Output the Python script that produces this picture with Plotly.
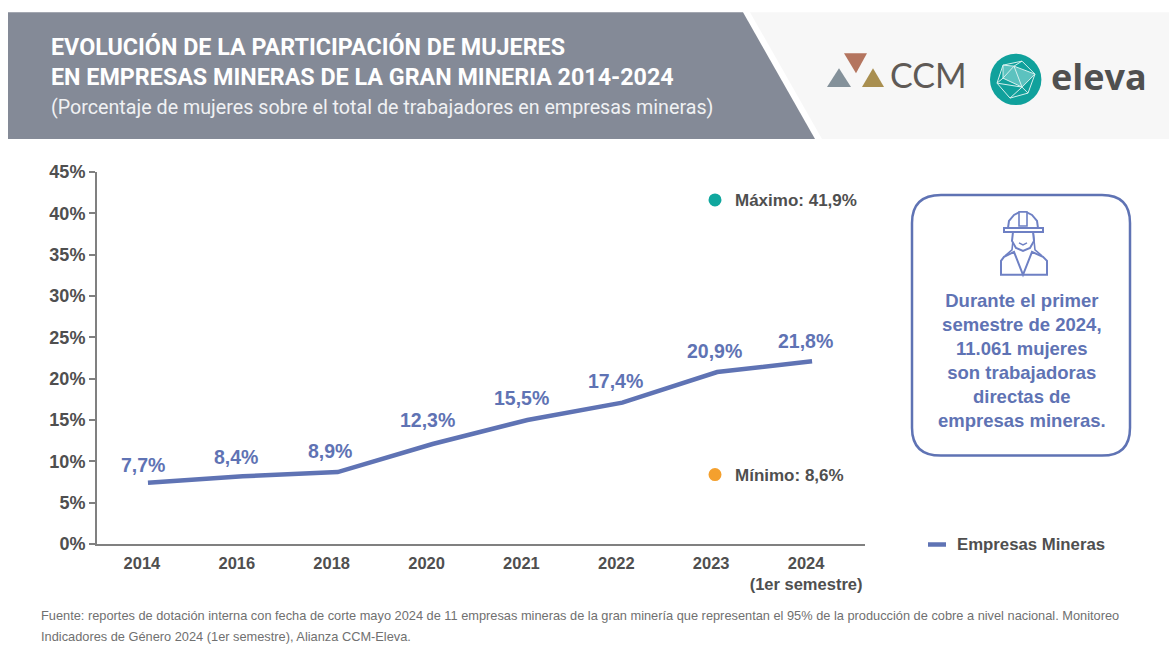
import plotly.graph_objects as go

W, H = 1169, 662
L, R, T, B = 97, 865, 172, 544.5

categories = ["2014", "2016", "2018", "2020", "2021", "2022", "2023", "2024"]
tick_labels = ["2014", "2016", "2018", "2020", "2021", "2022", "2023", "2024<br>(1er semestre)"]
series_name = "Empresas Mineras"
line_values = [7.4, 8.2, 8.7, 12.1, 15.0, 17.1, 20.8, 22.1]
value_labels = ["7,7%", "8,4%", "8,9%", "12,3%", "15,5%", "17,4%", "20,9%", "21,8%"]
y_ticks = [0, 5, 10, 15, 20, 25, 30, 35, 40, 45]

BLUE = "#5f73b4"
GRAY = "#4f4f4f"
SANS = "Liberation Sans"

def px(x):
    return (x - L) / (R - L)

def py(y):
    return (B - y) / (B - T)

def path(points, close=True):
    s = "M " + " L ".join(f"{px(a):.5f},{py(b):.5f}" for a, b in points)
    return s + (" Z" if close else "")

shapes = []

def poly(points, fill, line=None, width=0, close=True):
    shapes.append(dict(type="path", xref="paper", yref="paper", path=path(points, close),
                       fillcolor=fill if close else "rgba(0,0,0,0)",
                       line=dict(color=line or "rgba(0,0,0,0)", width=width), layer="below"))

def circle(cx, cy, rx, ry, fill, line=None, width=0):
    shapes.append(dict(type="circle", xref="paper", yref="paper",
                       x0=px(cx - rx), x1=px(cx + rx), y0=py(cy + ry), y1=py(cy - ry),
                       fillcolor=fill, line=dict(color=line or "rgba(0,0,0,0)", width=width), layer="below"))

# header
poly([(750, 12), (1169, 12), (1169, 139), (822, 139)], "#f7f7f7")
poly([(8, 12), (743, 12), (815, 139), (8, 139)], "#848a97")

# CCM logo
poly([(844, 53), (867, 53), (856, 73)], "#b4755f")
poly([(827, 87), (851, 87), (839, 68)], "#84919a")
poly([(862, 87), (884, 87), (873, 68)], "#a98f50")

# eleva logo
circle(1015.7, 79.3, 25.7, 25.7, "#10a19c")
poly([(1003, 65), (1014, 66), (1035, 74), (1022, 87), (1003, 78)], "#5cc2bf")
for seg in ([(1003, 65), (1022, 61), (1035, 74), (1028, 93), (1010, 98), (997, 83), (1003, 65)],
            [(1003, 65), (1014, 66), (1022, 61)],
            [(1014, 66), (1035, 74), (1022, 87), (1014, 66), (1003, 78), (1022, 87), (997, 83)],
            [(1022, 87), (1010, 98)], [(1022, 87), (1028, 93)], [(1003, 65), (1003, 78), (997, 83)]):
    poly(seg, "rgba(0,0,0,0)", "#d5f0ee", 1, close=False)

# callout box
shapes.append(dict(type="path", xref="paper", yref="paper",
                   path=(f"M {px(941)},{py(195)} L {px(1102)},{py(195)} "
                         f"Q {px(1130)},{py(195)} {px(1130)},{py(223)} L {px(1130)},{py(428)} "
                         f"Q {px(1130)},{py(456)} {px(1102)},{py(456)} L {px(941)},{py(456)} "
                         f"Q {px(912)},{py(456)} {px(912)},{py(428)} L {px(912)},{py(223)} "
                         f"Q {px(912)},{py(195)} {px(941)},{py(195)} Z"),
                   line=dict(color=BLUE, width=2.5), fillcolor="rgba(0,0,0,0)", layer="below"))

# worker icon
ic = "#6e80c4"
poly([(1001, 275), (1001, 261), (1004, 257), (1014, 252), (1023, 275), (1032, 252), (1043, 257),
      (1047, 261), (1047, 275)], "white", ic, 2)
poly([(1014, 231), (1012, 250), (1005, 256)], "white", ic, 1.6, close=False)
poly([(1033, 231), (1035, 250), (1042, 256)], "white", ic, 1.6, close=False)
poly([(1013, 232), (1033, 232), (1034, 241), (1030, 248), (1023, 251), (1016, 248), (1012, 241)], "white", ic, 2)
poly([(1019, 243), (1023, 245), (1027, 243)], "white", ic, 1.4, close=False)
poly([(1008, 228), (1009, 221), (1014, 215), (1020, 212), (1026, 212), (1032, 215), (1037, 221), (1038, 228)],
     "white", ic, 2)
poly([(1019, 212), (1019, 226), (1027, 226), (1027, 212)], "white", ic, 1.6)
poly([(1004, 232), (1004, 228), (1043, 228), (1043, 232)], "white", ic, 2)

annotations = []

def text(x, y, s, size, color=GRAY, font=SANS, anchor="left", yanchor="middle", bold=False, align=None):
    annotations.append(dict(xref="paper", yref="paper", x=px(x), y=py(y), text=f"<b>{s}</b>" if bold else s,
                            showarrow=False, xanchor=anchor, yanchor=yanchor, align=align or anchor,
                            font=dict(family=font, size=size, color=color), borderpad=0))

# header text
text(50, 47, "EVOLUCIÓN DE LA PARTICIPACIÓN DE MUJERES", 23.3, "white", "Roboto", bold=True)
text(50, 77, "EN EMPRESAS MINERAS DE LA GRAN MINERIA 2014-2024", 23.3, "white", "Roboto", bold=True)
text(50, 107, "(Porcentaje de mujeres sobre el total de trabajadores en empresas mineras)", 19.7, "#f0f1f3", "Roboto")

# logo text
text(889, 74, "CCM", 34, "#5f5a56", "Lato")
text(1050, 76, "<b>eleva</b>", 36, "#505050", "Open Sans")

# callout text
text(1022, 361, "Durante el primer<br>semestre de 2024,<br>11.061 mujeres<br>son trabajadoras<br>directas de<br>empresas mineras.",
     18.5, BLUE, SANS, anchor="center", bold=True)

# max / min
circle(715, 200, 6.5, 6.5, "#10a79e")
text(734, 201, "Máximo: 41,9%", 17, GRAY, SANS, bold=True)
circle(715, 475, 6.5, 6.5, "#f4a02e")
text(734, 476, "Mínimo: 8,6%", 17, GRAY, SANS, bold=True)

# legend
shapes.append(dict(type="line", xref="paper", yref="paper", x0=px(928), x1=px(946), y0=py(545), y1=py(545),
                   line=dict(color=BLUE, width=4.5)))
text(956, 545, "Empresas Mineras", 16.75, GRAY, SANS, bold=True)

# footer
text(40, 616, "Fuente: reportes de dotación interna con fecha de corte mayo 2024 de 11 empresas mineras de la gran minería que representan el 95% de la producción de cobre a nivel nacional. Monitoreo",
     12.8, "#707070", SANS)
text(40, 637, "Indicadores de Género 2024 (1er semestre), Alianza CCM-Eleva.", 12.8, "#707070", SANS)

# value labels, placed relative to their data point
x_off = [-5, -7, -8, -5, -6, -7, -3, -7]
y_off = [18, 19, 21, 24, 22, 22, 21, 20]
for i, (v, lab, dx, dy) in enumerate(zip(line_values, value_labels, x_off, y_off)):
    annotations.append(dict(x=i, y=v, xref="x", yref="y", text=f"<b>{lab}</b>", showarrow=False,
                            xshift=dx, yshift=dy, font=dict(family=SANS, size=19.5, color=BLUE)))

fig = go.Figure(go.Scatter(x=categories, y=line_values, name=series_name, mode="lines",
                           line=dict(color=BLUE, width=4.5), showlegend=False))

fig.update_layout(
    width=W, height=H, autosize=False,
    margin=dict(l=L, r=W - R, t=T, b=H - B, pad=0),
    paper_bgcolor="white", plot_bgcolor="white", showlegend=False,
    shapes=shapes, annotations=annotations,
)
fig.update_xaxes(type="category", categoryorder="array", categoryarray=categories,
                 tickmode="array", tickvals=categories,
                 ticktext=[f"<b>{t}</b>" for t in tick_labels],
                 range=[-0.537, 7.558], showgrid=False, zeroline=False,
                 showline=True, linecolor="#808080", linewidth=2, ticks="",
                 ticklabelshift=-6, ticklabelstandoff=3,
                 tickfont=dict(family=SANS, size=16.5, color=GRAY))
fig.update_yaxes(range=[0, 45], tickmode="array", tickvals=y_ticks,
                 ticktext=[f"<b>{t}%</b>" for t in y_ticks], showgrid=False, zeroline=False,
                 showline=True, linecolor="#808080", linewidth=2, ticks="outside",
                 ticklen=6, tickwidth=1.5, tickcolor="#808080",
                 tickfont=dict(family=SANS, size=18, color=GRAY))

fig.write_html("out.html", config={"displayModeBar": False},
               post_script="document.body.style.margin='0';")
